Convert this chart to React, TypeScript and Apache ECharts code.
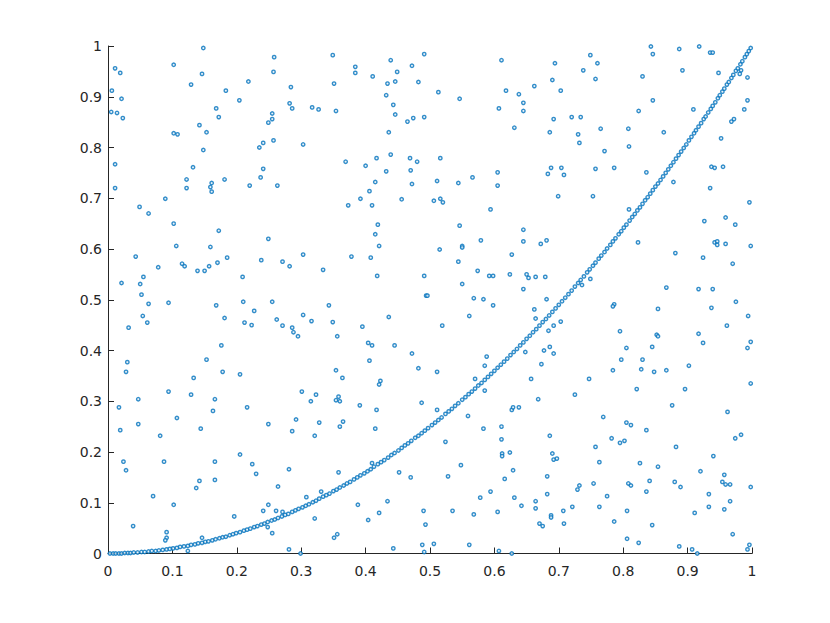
import React, { useEffect, useRef } from "react";
import * as echarts from "echarts";

const xTicks = [0, 0.1, 0.2, 0.3, 0.4, 0.5, 0.6, 0.7, 0.8, 0.9, 1];
const yTicks = [0, 0.1, 0.2, 0.3, 0.4, 0.5, 0.6, 0.7, 0.8, 0.9, 1];

// scattered points
const scatterTop: number[][] = [
  [0.148,0.996],[0.102,0.963],[0.011,0.956],[0.019,0.947],[0.146,0.945],[0.218,0.930],[0.129,0.924],[0.006,0.912],[0.183,0.912],[0.021,0.896],[0.204,0.893],[0.005,0.870],[0.014,0.868],[0.168,0.877],[0.023,0.858],[0.172,0.860],[0.142,0.844],[0.153,0.830],[0.102,0.828],[0.108,0.826],[0.241,0.809],[0.235,0.800],[0.148,0.795],[0.011,0.767],[0.132,0.761],[0.241,0.758],[0.122,0.737],[0.181,0.737],[0.237,0.741],[0.161,0.730],[0.159,0.722],[0.011,0.720],[0.122,0.720],[0.220,0.725],[0.161,0.713],[0.089,0.699],[0.049,0.683],[0.063,0.670],
  [0.258,0.978],[0.349,0.982],[0.491,0.984],[0.439,0.972],[0.384,0.959],[0.472,0.961],[0.257,0.949],[0.384,0.947],[0.449,0.949],[0.411,0.940],[0.434,0.926],[0.446,0.930],[0.482,0.929],[0.351,0.926],[0.284,0.919],[0.432,0.903],[0.282,0.887],[0.443,0.884],[0.286,0.877],[0.317,0.879],[0.327,0.875],[0.354,0.872],[0.255,0.867],[0.255,0.856],[0.249,0.849],[0.446,0.865],[0.465,0.851],[0.474,0.858],[0.491,0.860],[0.436,0.830],[0.257,0.814],[0.303,0.806],[0.369,0.772],[0.417,0.779],[0.439,0.786],[0.469,0.779],[0.480,0.772],[0.400,0.764],[0.432,0.753],[0.470,0.755],[0.415,0.732],[0.472,0.728],[0.263,0.725],[0.406,0.714],[0.392,0.699],[0.456,0.698],[0.373,0.686],[0.410,0.686],
  [0.611,0.972],[0.749,0.982],[0.694,0.966],[0.738,0.952],[0.757,0.935],[0.690,0.933],[0.662,0.921],[0.513,0.909],[0.618,0.912],[0.638,0.905],[0.703,0.912],[0.546,0.896],[0.645,0.888],[0.607,0.877],[0.645,0.872],[0.692,0.856],[0.720,0.860],[0.734,0.860],[0.631,0.839],[0.686,0.830],[0.730,0.826],[0.732,0.809],[0.516,0.779],[0.688,0.760],[0.704,0.760],[0.757,0.758],[0.683,0.748],[0.708,0.746],[0.566,0.741],[0.605,0.751],[0.511,0.734],[0.544,0.730],[0.605,0.725],[0.516,0.699],[0.520,0.692],[0.506,0.695],[0.699,0.704],[0.753,0.704],[0.594,0.678],
  [0.843,0.999],[0.918,0.999],[0.887,0.994],[0.846,0.984],[0.935,0.987],[0.939,0.987],[0.760,0.966],[0.892,0.952],[0.948,0.947],[0.983,0.952],[0.981,0.945],[0.830,0.940],[0.993,0.938],[0.846,0.893],[0.993,0.893],[0.824,0.872],[0.909,0.875],[0.988,0.875],[0.968,0.851],[0.972,0.856],[0.765,0.837],[0.808,0.837],[0.863,0.830],[0.952,0.818],[0.771,0.793],[0.809,0.802],[0.786,0.760],[0.836,0.751],[0.937,0.762],[0.942,0.760],[0.955,0.762],[0.878,0.732],[0.935,0.720],[0.996,0.692],[0.809,0.678],
];

const scatterMiddle: number[][] = [
  [0.102,0.650],[0.172,0.636],[0.106,0.606],[0.159,0.604],[0.043,0.585],[0.185,0.583],[0.238,0.578],[0.078,0.564],[0.115,0.571],[0.119,0.566],[0.170,0.573],[0.157,0.566],[0.139,0.557],[0.150,0.557],[0.055,0.545],[0.209,0.545],[0.021,0.533],[0.050,0.531],[0.052,0.510],[0.063,0.492],[0.094,0.494],[0.168,0.489],[0.210,0.496],[0.227,0.478],[0.054,0.468],[0.061,0.455],[0.181,0.464],[0.212,0.455],[0.223,0.450],[0.032,0.445],[0.176,0.410],[0.153,0.382],[0.030,0.377],[0.028,0.358],[0.178,0.358],[0.205,0.353],[0.133,0.346],
  [0.249,0.620],[0.419,0.648],[0.415,0.629],[0.421,0.606],[0.303,0.589],[0.271,0.575],[0.282,0.566],[0.334,0.559],[0.378,0.585],[0.408,0.583],[0.418,0.547],[0.491,0.547],[0.494,0.508],[0.496,0.508],[0.255,0.496],[0.343,0.489],[0.262,0.461],[0.271,0.449],[0.303,0.470],[0.316,0.458],[0.286,0.445],[0.288,0.436],[0.295,0.428],[0.349,0.456],[0.356,0.428],[0.395,0.447],[0.436,0.466],[0.404,0.415],[0.410,0.410],[0.445,0.410],[0.472,0.394],[0.406,0.380],[0.482,0.365],[0.354,0.361],[0.364,0.346],[0.423,0.340],[0.421,0.333],
  [0.546,0.646],[0.645,0.638],[0.579,0.617],[0.550,0.606],[0.550,0.603],[0.645,0.615],[0.672,0.610],[0.681,0.617],[0.515,0.599],[0.627,0.589],[0.544,0.575],[0.574,0.557],[0.592,0.547],[0.598,0.547],[0.624,0.550],[0.650,0.550],[0.653,0.543],[0.664,0.545],[0.679,0.545],[0.550,0.531],[0.645,0.521],[0.568,0.503],[0.583,0.501],[0.598,0.489],[0.681,0.501],[0.662,0.481],[0.561,0.468],[0.664,0.463],[0.519,0.449],[0.692,0.449],[0.703,0.457],[0.684,0.439],[0.686,0.407],[0.677,0.400],[0.692,0.394],[0.648,0.397],[0.588,0.388],[0.585,0.370],[0.673,0.373],[0.511,0.358],[0.570,0.344],[0.657,0.344],[0.747,0.344],[0.749,0.541],[0.736,0.529],
  [0.926,0.655],[0.959,0.662],[0.974,0.648],[0.823,0.613],[0.942,0.613],[0.946,0.615],[0.946,0.608],[0.959,0.610],[0.998,0.606],[0.881,0.592],[0.924,0.583],[0.970,0.571],[0.867,0.524],[0.917,0.521],[0.939,0.521],[0.786,0.491],[0.784,0.487],[0.854,0.482],[0.937,0.484],[0.975,0.496],[0.994,0.468],[0.961,0.449],[0.795,0.438],[0.852,0.431],[0.854,0.428],[0.917,0.433],[0.924,0.415],[0.998,0.417],[0.993,0.405],[0.805,0.405],[0.845,0.407],[0.797,0.382],[0.830,0.382],[0.784,0.361],[0.828,0.363],[0.848,0.358],[0.867,0.361],[0.902,0.370],[0.998,0.335],[0.821,0.324],[0.896,0.324],
];

const scatterBottom: number[][] = [
  [0.047,0.304],[0.094,0.319],[0.129,0.313],[0.166,0.304],[0.017,0.288],[0.216,0.288],[0.163,0.281],[0.107,0.267],[0.047,0.255],[0.019,0.243],[0.144,0.246],[0.081,0.232],[0.205,0.195],[0.024,0.181],[0.087,0.181],[0.166,0.181],[0.224,0.176],[0.028,0.164],[0.230,0.157],[0.142,0.143],[0.166,0.145],[0.137,0.129],[0.070,0.113],[0.102,0.096],[0.241,0.084],[0.196,0.073],[0.039,0.054],[0.091,0.042],[0.091,0.031],[0.089,0.026],[0.146,0.031],[0.124,0.005],
  [0.301,0.319],[0.323,0.313],[0.315,0.300],[0.358,0.309],[0.354,0.302],[0.360,0.300],[0.391,0.292],[0.417,0.283],[0.487,0.297],[0.249,0.255],[0.292,0.264],[0.328,0.258],[0.365,0.260],[0.360,0.250],[0.286,0.241],[0.321,0.232],[0.415,0.246],[0.281,0.166],[0.358,0.160],[0.410,0.178],[0.452,0.160],[0.470,0.150],[0.264,0.132],[0.331,0.122],[0.308,0.111],[0.249,0.096],[0.388,0.096],[0.434,0.103],[0.490,0.084],[0.261,0.084],[0.271,0.082],[0.321,0.069],[0.421,0.080],[0.404,0.066],[0.493,0.057],[0.248,0.052],[0.255,0.040],[0.351,0.031],[0.356,0.038],[0.488,0.017],[0.281,0.008],[0.443,0.010],[0.299,0.000],[0.491,0.003],
  [0.585,0.321],[0.668,0.304],[0.725,0.313],[0.511,0.283],[0.559,0.271],[0.627,0.283],[0.629,0.288],[0.638,0.288],[0.583,0.246],[0.611,0.250],[0.611,0.225],[0.686,0.232],[0.757,0.210],[0.524,0.220],[0.612,0.197],[0.612,0.192],[0.624,0.199],[0.690,0.197],[0.692,0.185],[0.697,0.187],[0.548,0.174],[0.629,0.164],[0.528,0.152],[0.616,0.147],[0.682,0.152],[0.754,0.138],[0.732,0.134],[0.729,0.126],[0.594,0.122],[0.578,0.110],[0.631,0.110],[0.682,0.117],[0.664,0.103],[0.642,0.094],[0.664,0.089],[0.721,0.092],[0.707,0.084],[0.535,0.084],[0.568,0.077],[0.605,0.082],[0.688,0.075],[0.688,0.071],[0.670,0.059],[0.675,0.054],[0.708,0.059],[0.506,0.019],[0.561,0.017],[0.607,0.005],[0.627,0.000],
  [0.876,0.292],[0.962,0.279],[0.769,0.269],[0.805,0.258],[0.812,0.253],[0.836,0.243],[0.983,0.234],[0.974,0.227],[0.782,0.227],[0.795,0.218],[0.802,0.222],[0.882,0.210],[0.940,0.192],[0.763,0.180],[0.826,0.178],[0.854,0.171],[0.920,0.162],[0.957,0.155],[0.808,0.138],[0.812,0.134],[0.841,0.143],[0.880,0.141],[0.889,0.131],[0.954,0.141],[0.959,0.136],[0.966,0.136],[0.998,0.131],[0.836,0.122],[0.775,0.113],[0.933,0.117],[0.966,0.103],[0.763,0.092],[0.806,0.084],[0.933,0.092],[0.957,0.087],[0.911,0.080],[0.786,0.063],[0.845,0.056],[0.970,0.038],[0.806,0.029],[0.824,0.021],[0.887,0.014],[0.907,0.008],[0.915,0.000],[0.996,0.017],[0.993,0.008],
];

// points lying along the curve
const curvePoints: number[][] = [
  [0.003,0.000],[0.008,0.000],[0.012,0.000],[0.017,0.000],[0.021,0.000],[0.026,0.001],[0.031,0.001],[0.035,0.001],[0.040,0.002],[0.046,0.002],
  [0.052,0.003],[0.057,0.003],[0.063,0.004],[0.068,0.005],[0.074,0.005],[0.079,0.006],[0.085,0.007],[0.091,0.008],[0.096,0.009],[0.101,0.010],
  [0.107,0.011],[0.112,0.013],[0.118,0.014],[0.124,0.015],[0.129,0.017],[0.135,0.018],[0.140,0.020],[0.146,0.021],[0.151,0.023],[0.156,0.024],
  [0.162,0.026],[0.167,0.028],[0.173,0.030],[0.178,0.032],[0.183,0.033],[0.189,0.036],[0.194,0.038],[0.199,0.040],[0.205,0.042],[0.211,0.045],
  [0.216,0.047],[0.221,0.049],[0.227,0.052],[0.232,0.054],[0.238,0.057],[0.243,0.059],[0.248,0.062],[0.254,0.065],[0.259,0.067],[0.264,0.070],
  [0.270,0.073],[0.275,0.076],[0.280,0.078],[0.286,0.082],[0.291,0.085],[0.296,0.088],[0.302,0.091],[0.307,0.094],[0.312,0.097],[0.318,0.101],
  [0.323,0.104],[0.328,0.108],[0.334,0.112],[0.339,0.115],[0.344,0.118],[0.350,0.123],[0.355,0.126],[0.360,0.130],[0.366,0.134],[0.371,0.138],
  [0.376,0.141],[0.382,0.146],[0.387,0.150],[0.392,0.154],[0.398,0.158],[0.403,0.162],[0.408,0.166],[0.413,0.171],[0.419,0.176],[0.424,0.180],
  [0.429,0.184],[0.435,0.189],[0.440,0.194],[0.445,0.198],[0.451,0.203],[0.456,0.208],[0.461,0.213],[0.466,0.217],[0.471,0.222],[0.477,0.228],
  [0.482,0.232],[0.487,0.237],[0.492,0.242],[0.497,0.247],[0.503,0.253],[0.508,0.258],[0.513,0.263],[0.518,0.268],[0.524,0.275],[0.529,0.280],
  [0.534,0.285],[0.539,0.291],[0.544,0.296],[0.550,0.303],[0.555,0.308],[0.560,0.314],[0.565,0.319],[0.570,0.325],[0.575,0.331],[0.580,0.336],
  [0.585,0.342],[0.590,0.348],[0.595,0.354],[0.600,0.360],[0.605,0.366],[0.610,0.372],[0.615,0.378],[0.620,0.384],[0.625,0.391],[0.630,0.397],
  [0.635,0.403],[0.640,0.410],[0.645,0.416],[0.650,0.423],[0.655,0.429],[0.660,0.436],[0.665,0.442],[0.670,0.449],[0.675,0.456],[0.680,0.462],
  [0.685,0.469],[0.690,0.476],[0.695,0.483],[0.700,0.490],[0.705,0.497],[0.710,0.504],[0.715,0.511],[0.720,0.518],[0.725,0.526],[0.730,0.533],
  [0.734,0.539],[0.739,0.546],[0.744,0.554],[0.748,0.560],[0.753,0.567],[0.757,0.573],[0.762,0.581],[0.766,0.587],[0.771,0.594],[0.775,0.601],
  [0.780,0.608],[0.784,0.615],[0.788,0.621],[0.793,0.629],[0.797,0.635],[0.801,0.642],[0.805,0.648],[0.810,0.656],[0.814,0.663],[0.818,0.669],
  [0.822,0.676],[0.826,0.682],[0.830,0.689],[0.834,0.696],[0.838,0.702],[0.842,0.709],[0.846,0.716],[0.850,0.723],[0.854,0.729],[0.858,0.736],
  [0.862,0.743],[0.866,0.750],[0.870,0.757],[0.874,0.764],[0.878,0.771],[0.882,0.778],[0.886,0.785],[0.890,0.792],[0.894,0.799],[0.898,0.806],
  [0.902,0.814],[0.906,0.821],[0.910,0.828],[0.913,0.834],[0.917,0.841],[0.921,0.848],[0.925,0.856],[0.928,0.861],[0.932,0.869],[0.936,0.876],
  [0.939,0.882],[0.943,0.889],[0.947,0.897],[0.950,0.903],[0.954,0.910],[0.957,0.916],[0.961,0.924],[0.964,0.929],[0.968,0.937],[0.971,0.943],
  [0.975,0.951],[0.978,0.956],[0.982,0.964],[0.985,0.970],[0.989,0.978],[0.992,0.984],[0.995,0.990],[0.998,0.996],
];

const MARKER_COLOR = "#0072BD";
const AXIS_COLOR = "#262626";
const FONT = "DejaVu Sans";

export default function App() {
  const ref = useRef<HTMLDivElement>(null);

  useEffect(() => {
    if (!ref.current) return;
    const chart = echarts.init(ref.current, null, { renderer: "svg" });
    const markerStyle = {
      color: "#e6f0f8",
      borderColor: MARKER_COLOR,
      borderWidth: 1.4,
    };
    const mkSeries = (data: number[][]) => ({
      type: "scatter",
      data,
      symbol: "circle",
      symbolSize: 3.4,
      itemStyle: markerStyle,
      emphasis: { disabled: true },
      silent: true,
    });
    chart.setOption({
      animation: false,
      backgroundColor: "#ffffff",
      grid: { left: 108, right: 78, top: 46, bottom: 69.5, containLabel: false },
      xAxis: {
        type: "value",
        min: xTicks[0],
        max: xTicks[xTicks.length - 1],
        interval: 0.1,
        splitLine: { show: false },
        axisLine: { show: true, onZero: false, lineStyle: { color: AXIS_COLOR, width: 1 } },
        axisTick: { show: true, inside: true, length: 6, lineStyle: { color: AXIS_COLOR } },
        axisLabel: {
          color: AXIS_COLOR,
          fontFamily: FONT,
          fontSize: 14,
          margin: 10,
          showMinLabel: true,
          showMaxLabel: true,
          hideOverlap: false,
        },
      },
      yAxis: {
        type: "value",
        min: yTicks[0],
        max: yTicks[yTicks.length - 1],
        interval: 0.1,
        splitLine: { show: false },
        axisLine: { show: true, onZero: false, lineStyle: { color: AXIS_COLOR, width: 1 } },
        axisTick: { show: true, inside: true, length: 6, lineStyle: { color: AXIS_COLOR } },
        axisLabel: {
          color: AXIS_COLOR,
          fontFamily: FONT,
          fontSize: 14,
          margin: 6,
          showMinLabel: true,
          showMaxLabel: true,
          hideOverlap: false,
        },
      },
      series: [
        mkSeries(scatterTop),
        mkSeries(scatterMiddle),
        mkSeries(scatterBottom),
        mkSeries(curvePoints),
      ],
    });
    return () => chart.dispose();
  }, []);

  return (
    <div
      ref={ref}
      style={{ position: "fixed", left: 0, top: 0, width: 830, height: 623 }}
    />
  );
}
